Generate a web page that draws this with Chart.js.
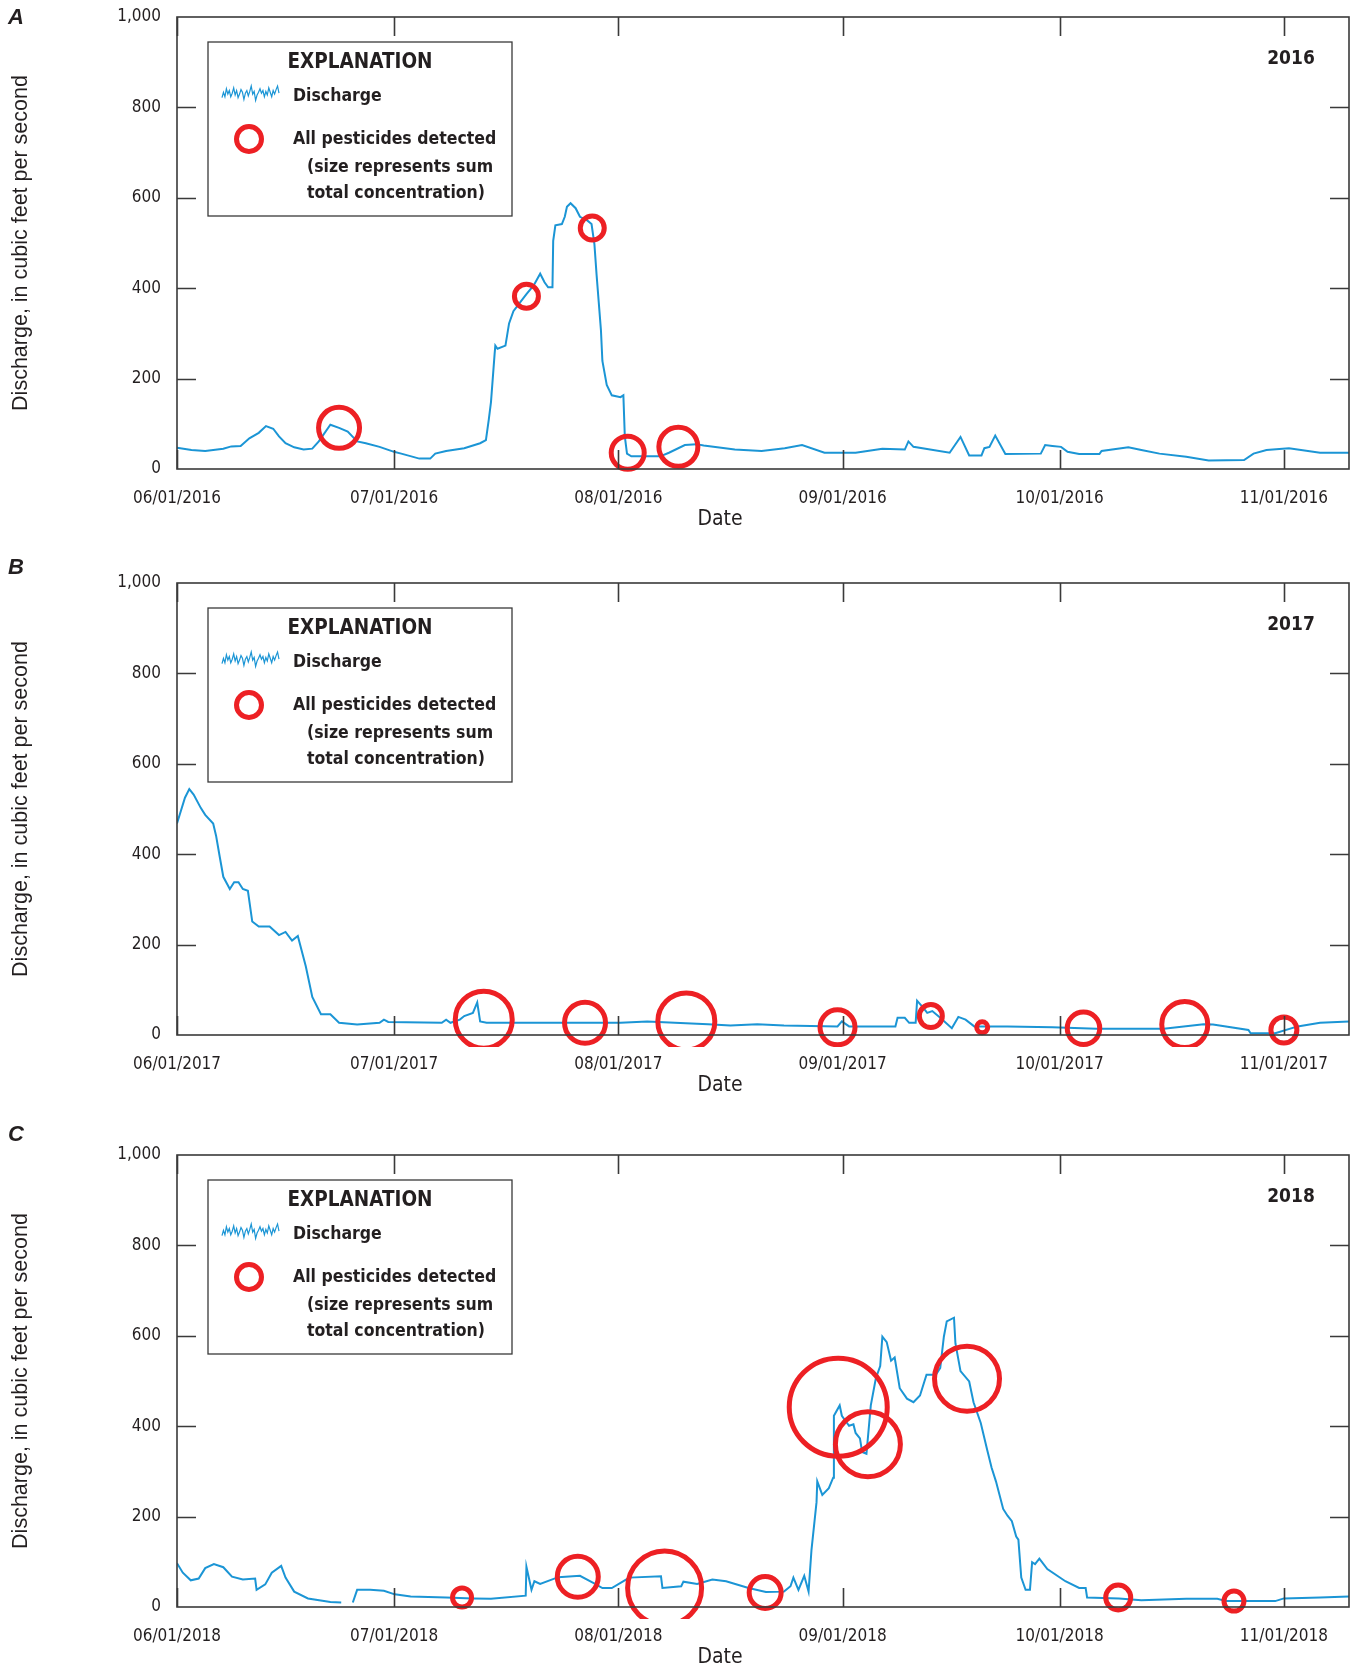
<!DOCTYPE html>
<html>
<head>
<meta charset="utf-8">
<title>Discharge and pesticide detections, 2016-2018</title>
<script src="https://cdn.jsdelivr.net/npm/chart.js@4.4.1/dist/chart.umd.min.js"></script>
<style>
  body { margin: 0; background: #fff; width: 1353px; height: 1671px; position: relative; overflow: hidden; }
  canvas { position: absolute; left: 0; }
  .letter { position: absolute; left: 8px; font: italic bold 22px 'Liberation Sans', Arial, sans-serif; color: #231f20; z-index: 2; }
</style>
</head>
<body>
<canvas id="chartA" width="1353" height="566" style="top:0px"></canvas>
<canvas id="chartB" width="1353" height="566" style="top:566px"></canvas>
<canvas id="chartC" width="1353" height="533" style="top:1138px"></canvas>
<div class="letter" style="top:4px">A</div>
<div class="letter" style="top:554px">B</div>
<div class="letter" style="top:1121px">C</div>
<script>
// days counted from June 1 of each year
const monthDays = [0, 30, 61, 92, 122, 153];
const ticksA = ['06/01/2016', '07/01/2016', '08/01/2016', '09/01/2016', '10/01/2016', '11/01/2016'];
const ticksB = ['06/01/2017', '07/01/2017', '08/01/2017', '09/01/2017', '10/01/2017', '11/01/2017'];
const ticksC = ['06/01/2018', '07/01/2018', '08/01/2018', '09/01/2018', '10/01/2018', '11/01/2018'];

// 2016 discharge, cubic feet per second
const daysA = [0, 2, 3.9, 6.4, 7.5, 8.8, 10, 11.3, 12.3, 13.3, 14.1, 15, 16.2, 17.5, 18.7, 19.6, 21.2, 22.4, 23.6, 24.9, 26.1, 28, 30, 31, 33.5, 35, 35.7, 37.2, 39.7, 41.9, 42.7, 43.1, 43.4, 43.9, 44, 44.3, 45.4, 45.9, 46.5, 47.4, 48.3, 49.3, 50.2, 50.8, 51.3, 51.9, 52, 52.3, 53.2, 53.6, 53.9, 54.4, 55.1, 55.7, 56.7, 57.3, 57.7, 58, 58.3, 58.6, 58.8, 59.4, 60.1, 61.3, 61.7, 61.9, 62.2, 62.8, 66.8, 68, 70.2, 71.8, 72.8, 77.1, 80.8, 84, 86.4, 89.5, 93.8, 97.5, 100.6, 101.1, 101.8, 106.8, 108.3, 109.5, 111.2, 111.6, 112.3, 113.1, 114.5, 119.4, 120, 121, 122.2, 123.1, 124.7, 127.5, 127.8, 131.5, 133.3, 135.8, 139.5, 142.6, 147.5, 148.8, 150.6, 153.7, 158, 162];
const flowA = [47, 42, 40, 45, 50, 51, 68, 80, 95, 89, 72, 57, 48, 43, 45, 61, 98, 91, 83, 61, 57, 49, 38, 34, 23, 23, 34, 40, 46, 57, 64, 110, 148, 254, 273, 266, 273, 322, 349, 368, 387, 406, 432, 413, 402, 402, 505, 539, 542, 558, 580, 588, 577, 558, 550, 542, 497, 429, 368, 307, 239, 186, 163, 159, 163, 72, 34, 28, 28, 36, 53, 55, 52, 43, 40, 46, 53, 36, 36, 45, 43, 61, 49, 36, 71, 30, 30, 46, 49, 74, 33, 34, 53, 51, 49, 38, 33, 33, 40, 48, 42, 34, 27, 19, 20, 34, 42, 46, 36, 36];
// samples with pesticides detected (relative size = sum total concentration)
const sampleDaysA = [22.4, 48.3, 57.4, 62.3, 69.3];
const sampleFlowA = [91, 382, 533, 36, 49];
const sampleConcA = [4.6, 2.9, 2.9, 3.8, 4.4];

// 2017
const daysB = [0, 0.5, 1.1, 1.7, 2.3, 3.3, 3.9, 5, 5.4, 5.9, 6.4, 7.3, 7.9, 8.5, 9.1, 9.8, 10.4, 11.3, 12.8, 14.1, 15, 15.9, 16.7, 17.8, 18.7, 19.9, 21.2, 22.4, 24.9, 28, 28.6, 29.2, 36.6, 37.2, 37.8, 39.1, 39.7, 40.9, 41.5, 41.9, 42.8, 61.3, 65, 73.4, 76.5, 80.2, 83.9, 91.3, 91.9, 92.9, 99.3, 99.6, 100.6, 101.2, 102.1, 102.3, 103.1, 103.7, 104.4, 105.5, 107.1, 108, 109, 110.2, 114.8, 121, 127.1, 136.4, 141.9, 143.2, 148.1, 148.4, 151.8, 154.9, 158, 162];
const flowB = [468, 494, 525, 544, 532, 502, 487, 468, 441, 395, 350, 323, 338, 338, 323, 319, 251, 240, 240, 221, 228, 209, 219, 152, 84, 46, 46, 27, 23, 27, 34, 29, 27, 34, 27, 34, 42, 49, 72, 30, 27, 27, 30, 24, 21, 24, 21, 19, 30, 19, 19, 38, 38, 27, 27, 76, 61, 49, 53, 38, 15, 40, 34, 19, 19, 17, 14, 14, 24, 23, 11, 4, 4, 19, 27, 30];
const sampleDaysB = [42.4, 56.4, 70.4, 91.3, 104.2, 111.3, 125.3, 139.3, 153];
const sampleFlowB = [34, 27, 30, 17, 42, 17, 15, 23, 11];
const sampleConcB = [6.2, 4.6, 6.2, 4.0, 2.8, 1.6, 3.75, 5.1, 3.1];

// 2018 (gap in record near day 23)
const daysC = [0, 0.8, 1.9, 3, 3.9, 5.1, 6.4, 7.6, 9.1, 10.8, 11, 12.2, 13.1, 14.4, 15, 16.2, 18.1, 21.2, 22.7, 23.5, 24.3, 24.9, 26.7, 28.6, 30.1, 32.3, 37.2, 40.9, 43.4, 48.2, 48.3, 49, 49.4, 50.2, 52.7, 55.7, 57.6, 58.8, 60.1, 61.6, 62.5, 66.9, 67.1, 69.7, 70, 71.9, 74, 75.9, 79, 81.4, 83.9, 84.8, 85.2, 85.9, 86.7, 87.3, 87.7, 88.4, 88.5, 89.2, 90.1, 90.7, 90.8, 91.6, 91.9, 92.9, 93.5, 93.8, 94.4, 94.7, 95.3, 95.9, 96.6, 97.2, 97.5, 98.1, 98.7, 99.2, 99.9, 100.9, 101.8, 102.7, 103.6, 104.9, 105.5, 106, 106.4, 107.4, 107.6, 108.3, 109.5, 110.1, 111.1, 112, 112.6, 113.2, 114.2, 114.8, 115.4, 116, 116.3, 116.7, 117.3, 117.9, 118.2, 118.6, 119.2, 120.3, 122.8, 124.7, 125.6, 125.8, 130.2, 133.3, 139.5, 143.8, 145, 151.8, 153, 158, 162];
const flowC = [97, 76, 59, 63, 86, 95, 88, 67, 61, 63, 38, 50, 76, 91, 65, 34, 19, 11, 10, null, 10, 38, 38, 36, 28, 23, 21, 19, 18, 25, 89, 38, 57, 51, 66, 69, 53, 42, 42, 56, 65, 68, 42, 46, 56, 51, 61, 57, 42, 33, 34, 46, 65, 38, 69, 34, 126, 232, 278, 248, 263, 286, 423, 446, 423, 401, 404, 385, 373, 343, 339, 446, 506, 533, 598, 586, 545, 552, 484, 461, 453, 468, 514, 514, 529, 598, 632, 640, 583, 522, 499, 453, 407, 347, 308, 278, 217, 202, 190, 156, 149, 65, 38, 38, 99, 95, 107, 84, 57, 42, 42, 21, 19, 15, 18, 18, 13, 13, 19, 21, 23];
const sampleDaysC = [39.4, 55.4, 67.4, 81.3, 91.4, 95.5, 109.2, 130.1, 146.1];
const sampleFlowC = [21, 67, 42, 32, 442, 360, 505, 21, 13];
const sampleConcC = [2.4, 4.6, 7.9, 3.7, 10.3, 7.0, 7.0, 3.0, 2.5];

const NARROW = "'DejaVu Sans Condensed', 'Liberation Sans Narrow', sans-serif";
const WIDE = "'Liberation Sans', Arial, sans-serif";
const INK = '#231f20';
const FRAME = '#3a3a3a';
const BLUE = '#1b95d5';
const RED = '#ed2024';
const RING = 5;

// squiggle used for the legend line icon
const squiggle = [3, -3, 2, -7, -1, -5, 2, -2, -8, 0, -5, 3, -1, -6, -3, 5, -2, -5, 1, -4, -10, -1, -4, 6, 0, -3, -7, -2, -5, 2, -4, 0, -8, -3, 2, -5, -1, -6, -10, -2];

const panelDecor = {
    id: 'panelDecor',
    afterDraw(chart, args, opts) {
        const ctx = chart.ctx;
        const a = chart.chartArea;
        const xs = chart.scales.x, ys = chart.scales.y;
        ctx.save();

        // frame and inward ticks
        ctx.strokeStyle = FRAME;
        ctx.lineWidth = 1.6;
        ctx.strokeRect(a.left, a.top, a.right - a.left, a.bottom - a.top);
        ctx.beginPath();
        monthDays.forEach(d => {
            const px = Math.round(xs.getPixelForValue(d)) + 0.5;
            ctx.moveTo(px, a.top); ctx.lineTo(px, a.top + 19);
            ctx.moveTo(px, a.bottom); ctx.lineTo(px, a.bottom - 19);
        });
        [200, 400, 600, 800].forEach(v => {
            const py = Math.round(ys.getPixelForValue(v)) + 0.5;
            ctx.moveTo(a.left, py); ctx.lineTo(a.left + 19, py);
            ctx.moveTo(a.right, py); ctx.lineTo(a.right - 19, py);
        });
        ctx.stroke();

        // explanation box
        const bx = 208, by = a.top + 25, bw = 304, bh = 174;
        ctx.fillStyle = '#fff';
        ctx.fillRect(bx, by, bw, bh);
        ctx.lineWidth = 1.3;
        ctx.strokeRect(bx, by, bw, bh);

        ctx.fillStyle = INK;
        ctx.textBaseline = 'middle';
        ctx.textAlign = 'center';
        ctx.font = 'bold 20.5px ' + NARROW;
        ctx.fillText('EXPLANATION', 360, by + 21);

        ctx.textAlign = 'left';
        ctx.font = 'bold 17.5px ' + NARROW;
        ctx.fillText('Discharge', 293, by + 54);
        ctx.fillText('All pesticides detected', 293, by + 97);
        ctx.fillText('(size represents sum', 307, by + 125);
        ctx.fillText('total concentration)', 307, by + 151);

        ctx.strokeStyle = BLUE;
        ctx.lineWidth = 1.2;
        ctx.beginPath();
        squiggle.forEach((o, i) => {
            const px = 222 + i * 57 / (squiggle.length - 1);
            const py = by + 53 + o * 0.9;
            if (i === 0) ctx.moveTo(px, py); else ctx.lineTo(px, py);
        });
        ctx.stroke();

        ctx.strokeStyle = RED;
        ctx.lineWidth = RING;
        ctx.beginPath();
        ctx.arc(249, by + 97, 12.5, 0, Math.PI * 2);
        ctx.stroke();

        // year and axis name
        ctx.fillStyle = INK;
        ctx.textAlign = 'center';
        ctx.font = 'bold 19px ' + NARROW;
        ctx.fillText(opts.year, 1291, a.top + 42);
        ctx.font = '21px ' + NARROW;
        ctx.fillText('Date', 720, a.bottom + 51);
        ctx.restore();
    }
};

function makeChart(id, days, flow, sDays, sFlow, sConc, tickLabels, year) {
    const canvas = document.getElementById(id);
    const xHeight = canvas.height - 469;
    const line = days.map((d, i) => ({x: d, y: flow[i]}));
    const samples = sDays.map((d, i) => ({x: d, y: sFlow[i]}));

    return new Chart(canvas, {
        type: 'scatter',
        data: {
            datasets: [{
                label: 'All pesticides detected',
                data: samples,
                showLine: false,
                pointRadius: sConc.map(c => c * 5 - RING / 2),
                pointBorderWidth: RING,
                pointBorderColor: RED,
                pointBackgroundColor: 'rgba(0,0,0,0)',
                clip: {left: 40, right: 40, top: 60, bottom: 12}
            }, {
                label: 'Discharge',
                data: line,
                showLine: true,
                spanGaps: false,
                borderColor: BLUE,
                borderWidth: 2,
                pointRadius: 0,
                clip: 0
            }]
        },
        options: {
            responsive: false,
            animation: false,
            events: [],
            layout: {autoPadding: false, padding: {top: 17, right: 4, left: 0, bottom: 0}},
            plugins: {
                legend: {display: false},
                tooltip: {enabled: false},
                panelDecor: {year: year}
            },
            scales: {
                x: {
                    type: 'linear',
                    min: 0,
                    max: 162,
                    grid: {display: false, drawTicks: false},
                    border: {display: false},
                    afterBuildTicks: s => { s.ticks = monthDays.map(v => ({value: v})); },
                    afterFit: s => { s.height = xHeight; s.paddingLeft = 0; s.paddingRight = 0; },
                    ticks: {
                        autoSkip: false,
                        maxRotation: 0,
                        padding: 19,
                        color: INK,
                        font: {family: NARROW, size: 17},
                        callback: v => tickLabels[monthDays.indexOf(v)]
                    }
                },
                y: {
                    min: 0,
                    max: 1000,
                    grid: {display: false, drawTicks: false},
                    border: {display: false},
                    afterFit: s => { s.width = 177; s.paddingTop = 0; s.paddingBottom = 0; },
                    ticks: {
                        stepSize: 200,
                        padding: 16,
                        color: INK,
                        font: {family: NARROW, size: 17},
                        callback: v => v.toLocaleString('en-US')
                    },
                    title: {
                        display: true,
                        text: 'Discharge, in cubic feet per second',
                        color: INK,
                        font: {family: WIDE, size: 21.5},
                        padding: {top: 8, bottom: 0}
                    }
                }
            }
        },
        plugins: [panelDecor]
    });
}

makeChart('chartA', daysA, flowA, sampleDaysA, sampleFlowA, sampleConcA, ticksA, '2016');
makeChart('chartB', daysB, flowB, sampleDaysB, sampleFlowB, sampleConcB, ticksB, '2017');
makeChart('chartC', daysC, flowC, sampleDaysC, sampleFlowC, sampleConcC, ticksC, '2018');
</script>
</body>
</html>
